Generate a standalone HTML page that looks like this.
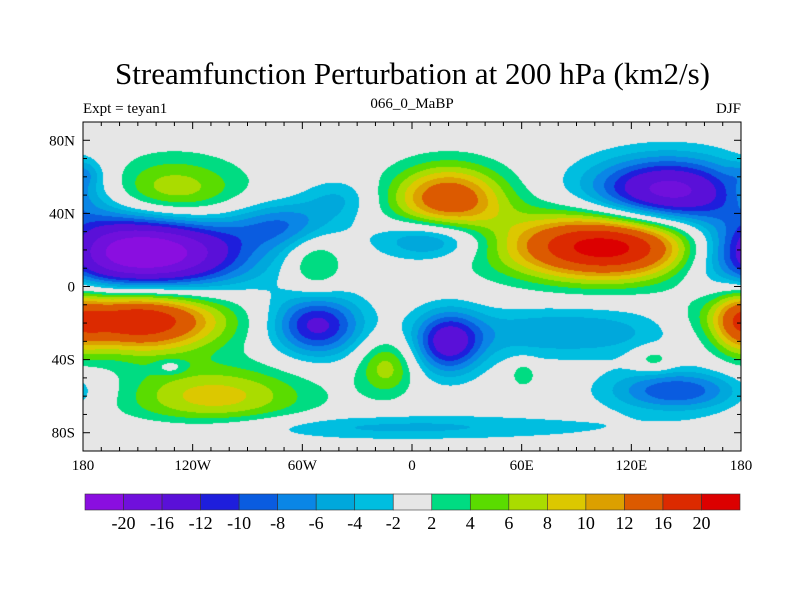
<!DOCTYPE html>
<html><head><meta charset="utf-8"><style>
body{margin:0;background:#fff;}
#wrap{position:relative;width:800px;height:600px;overflow:hidden;font-family:"Liberation Serif",serif;color:#000;}
.t{position:absolute;white-space:nowrap;}
</style></head><body>
<div id="wrap">
<div class="t" style="left:0;width:825px;text-align:center;top:56px;font-size:31px;">Streamfunction Perturbation at 200 hPa (km2/s)</div>
<div class="t" style="left:83px;top:101px;font-size:15px;">Expt = teyan1</div>
<div class="t" style="left:312px;width:200px;text-align:center;top:96px;font-size:15px;">066_0_MaBP</div>
<div class="t" style="right:59px;top:101px;font-size:15px;">DJF</div>
<canvas id="cv" width="658" height="329" style="position:absolute;left:83px;top:122px;"></canvas>
<svg id="sv" width="800" height="600" style="position:absolute;left:0;top:0;"></svg>
</div>
<script>
// blob data: lon, lat, amplitude, sigma lon, sigma lat
const blobLon=[-148,-150,-132,-108,-52,-53,-14,-70,20,12,20,85,108,140,145,-10,132,61,-132,-178,178,-40];
const blobLat=[19,-18,50,-60,-21,12,-44,34,48,26,-31,-25,22,52,-57,-77,-40,-48,-44,62,-20,48];
const blobAmp=[-26,21,9,9,-13,5.5,7,-7,15,-9,-13,-6,23,-18,-10,-4.5,4.5,4,-3.5,-3,6,-4];
const blobSx=[38,32,28,36,17,11,11,20,22,21,13,48,40,30,26,85,8,5,6,6,9,14];
const blobSy=[15,12,14,12,12,12,11,9,13,8,12,10,13,13,8,5,5,5,3,5,13,8];
const levels=[-20,-16,-12,-10,-8,-6,-4,-2,2,4,6,8,10,12,16,20];
const colors=["#8a0ee0","#7010dc","#5a10d8","#1e1edc","#0a5ce0","#0a86e6","#00a8dc","#00bee0","#e6e6e6","#00dc82","#5adc00","#aadc00","#dcc800","#dca000","#dc5a00","#dc2a00","#dc0000"];
const xTicks=[-180,-120,-60,0,60,120,180];
const xLabels=["180","120W","60W","0","60E","120E","180"];
const yTicks=[80,40,0,-40,-80];
const yLabels=["80N","40N","0","40S","80S"];

const L=83,R=741,T=122,B=451;
const xs=lon=>L+(lon+180)/360*(R-L);
const ys=lat=>T+(90-lat)/180*(B-T);
function field(lon,lat){
  let v=0;
  for(let i=0;i<blobLon.length;i++){
    for(const s of [-360,0,360]){
      const dx=(lon-blobLon[i]-s)/blobSx[i], dy=(lat-blobLat[i])/blobSy[i];
      const e=dx*dx+dy*dy; if(e<16) v+=blobAmp[i]*Math.exp(-0.5*e);
    }
  }
  return v;
}
function rgb(h){return [parseInt(h.substr(1,2),16),parseInt(h.substr(3,2),16),parseInt(h.substr(5,2),16)];}
const crgb=colors.map(rgb);
const cv=document.getElementById('cv'),ctx=cv.getContext('2d');
const W=cv.width,H=cv.height,img=ctx.createImageData(W,H);
for(let py=0;py<H;py++){const lat=90-(py+0.5)/H*180;
  for(let px=0;px<W;px++){const lon=-180+(px+0.5)/W*360;
    const v=field(lon,lat);let k=0;while(k<levels.length&&v>=levels[k])k++;
    const c=crgb[k],o=(py*W+px)*4;img.data[o]=c[0];img.data[o+1]=c[1];img.data[o+2]=c[2];img.data[o+3]=255;}}
ctx.putImageData(img,0,0);

const NS='http://www.w3.org/2000/svg',sv=document.getElementById('sv');
function mk(tag,at,parent){const e=document.createElementNS(NS,tag);for(const k in at)e.setAttribute(k,at[k]);(parent||sv).appendChild(e);return e;}
const frame=mk('rect',{x:L,y:T,width:R-L,height:B-T,fill:'none',stroke:'#000','stroke-width':1});


for(let lon=-180;lon<=180;lon+=10){const x=xs(lon),len=lon%60===0?7:4;
  mk('line',{x1:x,y1:T,x2:x,y2:T+len,stroke:'#000'});mk('line',{x1:x,y1:B,x2:x,y2:B-len,stroke:'#000'});}
for(let lat=-90;lat<=90;lat+=10){const y=ys(lat),len=lat%40===0?7:4;
  mk('line',{x1:L,y1:y,x2:L+len,y2:y,stroke:'#000'});mk('line',{x1:R,y1:y,x2:R-len,y2:y,stroke:'#000'});}
xTicks.forEach((v,i)=>{const t=mk('text',{x:xs(v),y:470,'text-anchor':'middle','font-size':15,'font-family':'Liberation Serif, serif'});t.textContent=xLabels[i];
  
  });
yTicks.forEach((v,i)=>{const t=mk('text',{x:75,y:ys(v)+5,'text-anchor':'end','font-size':15,'font-family':'Liberation Serif, serif'});t.textContent=yLabels[i];
  
  });
// colorbar
const cbL=85,cbR=740,cbT=494,cbH=16,bw=(cbR-cbL)/colors.length;
colors.forEach((c,i)=>{const r=mk('rect',{x:cbL+i*bw,y:cbT,width:bw,height:cbH,fill:c,stroke:'#333','stroke-width':0.6});
  
  });
levels.forEach((v,i)=>{const t=mk('text',{x:cbL+(i+1)*bw,y:529,'text-anchor':'middle','font-size':18,'font-family':'Liberation Serif, serif'});t.textContent=v;
  
  });
</script>
</body></html>
